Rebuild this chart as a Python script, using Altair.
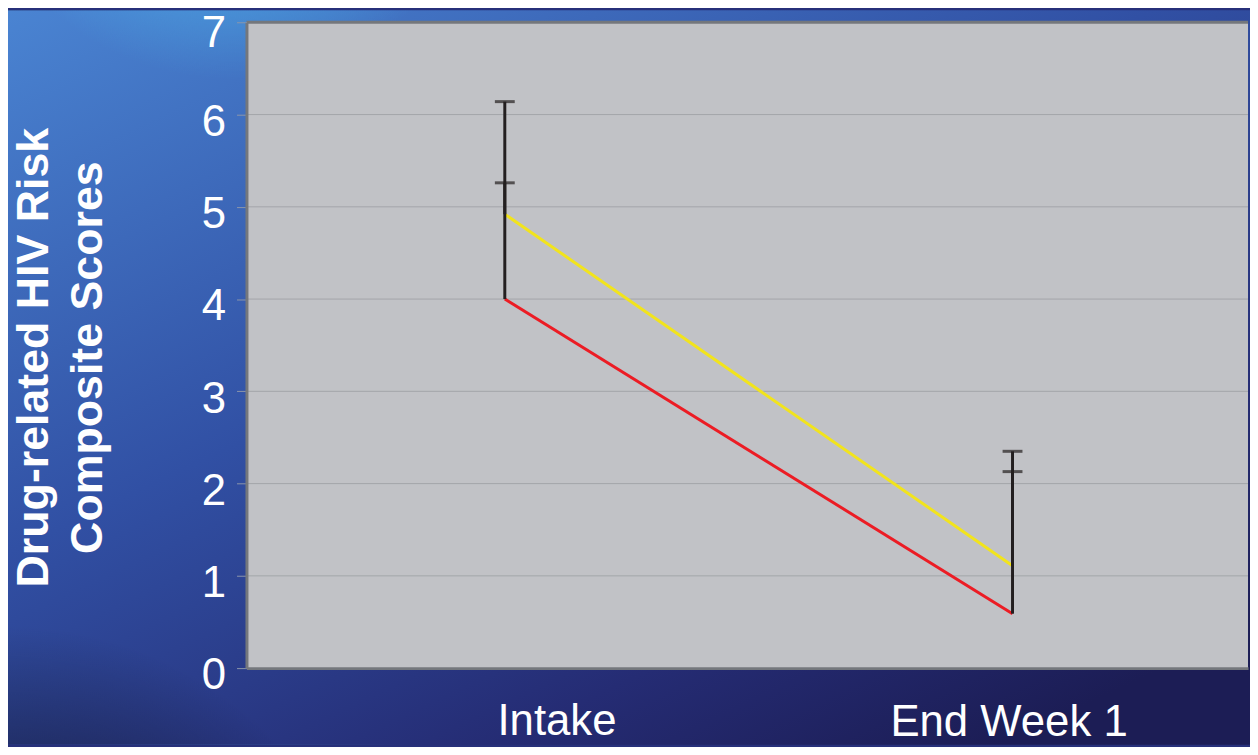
import json
import altair as alt
import pandas as pd

# ---- data ----
categories = ["Intake", "End Week 1"]
yellow_mean = [4.92, 1.11]
yellow_upper = [5.26, 2.13]
red_mean = [4.00, 0.59]
red_upper = [6.14, 2.35]
y_ticks = [0, 1, 2, 3, 4, 5, 6, 7]
grid_values = [1, 2, 3, 4, 5, 6]
top_border = [7]
series_names = ["Yellow", "Red"]
series_colors = ["#f2e41c", "#ec1c24"]
y_title = ["Drug-related HIV Risk", "Composite Scores"]

rows = []
for name, means, uppers in [("Yellow", yellow_mean, yellow_upper), ("Red", red_mean, red_upper)]:
    for i, (c, m, u) in enumerate(zip(categories, means, uppers)):
        rows.append({"series": name, "time": c, "idx": i, "mean": m, "upper": u})
df = pd.DataFrame(rows)
one = pd.DataFrame({"k": [0]})
grid_df = pd.DataFrame({"v": grid_values})
top_df = pd.DataFrame({"v": top_border})

W, H = 1008, 650
FONT = "Liberation Sans"
BORDER = "#74777c"

x_axis = alt.Axis(
    title=None, values=list(range(len(categories))), ticks=False, tickSize=0, labelAngle=0,
    labelExpr=json.dumps(categories) + "[datum.value]",
    labelFont=FONT, labelFontSize=44,
    labelColor="white", labelBaseline="alphabetic", labelAlign="center", labelLimit=0,
    labelOffset={"condition": {"test": "datum.value === 0", "value": 52}, "value": -4},
    labelPadding={"condition": {"test": "datum.value === 0", "value": 67}, "value": 68},
    domainColor=BORDER, domainWidth=3, grid=False, zindex=1, labelFlush=False, labelOverlap=False,
)
y_axis = alt.Axis(
    values=y_ticks, grid=False, labelFont=FONT, labelFontSize=44, labelColor="white",
    labelPadding=11,
    labelOffset={"condition": {"test": "datum.value === 7", "value": 11}, "value": 8},
    tickSize=10, tickColor="#8c96aa", tickWidth=1,
    domainColor=BORDER, domainWidth=3, zindex=1,
    titleFont=FONT, titleFontSize=45, titleFontWeight="bold", titleColor="white",
    titleLineHeight=54, titleAngle=270, titleAlign="center", titleBaseline="middle",
    titleX=-214, titleY=337,
)
x_scale = alt.Scale(domain=[-260 / 511, 748 / 511], nice=False, zero=False)
y_scale = alt.Scale(domain=[0, 7], nice=False, zero=True)


def xe():
    return alt.X("idx:Q", scale=x_scale, axis=x_axis)


def ye(field):
    return alt.Y(field, scale=y_scale, axis=y_axis, title=y_title)


bg = alt.Chart(one).mark_rect(
    color={"gradient": "linear", "x1": 0, "y1": 0, "x2": 0.8, "y2": 1,
           "stops": [{"offset": 0, "color": "#4a84d2"}, {"offset": 0.45, "color": "#3150a4"},
                     {"offset": 0.8, "color": "#252c74"}, {"offset": 1, "color": "#1c1d55"}]}
).encode(x=alt.value(-240), x2=alt.value(W + 2), y=alt.value(-12), y2=alt.value(H + 77))

glow = alt.Chart(one).mark_rect(
    color={"gradient": "radial", "x1": 0.18, "y1": 0.04, "r1": 0, "x2": 0.18, "y2": 0.04, "r2": 0.22,
           "stops": [{"offset": 0, "color": "rgba(80,205,248,0.95)"}, {"offset": 1, "color": "rgba(80,205,248,0)"}]}
).encode(x=alt.value(-240), x2=alt.value(W + 2), y=alt.value(-12), y2=alt.value(H + 77))

dark = alt.Chart(one).mark_rect(
    color={"gradient": "radial", "x1": 0.0, "y1": 1.0, "r1": 0, "x2": 0.0, "y2": 1.0, "r2": 0.3,
           "stops": [{"offset": 0, "color": "rgba(12,12,24,0.95)"}, {"offset": 1, "color": "rgba(12,12,24,0)"}]}
).encode(x=alt.value(-240), x2=alt.value(W + 2), y=alt.value(-12), y2=alt.value(H + 77))

panel = alt.Chart(one).mark_rect(color="#c1c2c6").encode(
    x=alt.value(0), x2=alt.value("width"), y=alt.value(0), y2=alt.value("height")
)

grid = alt.Chart(grid_df).mark_rule(color="#a3a5a9", strokeWidth=1).encode(y=ye("v:Q"))
top = alt.Chart(top_df).mark_rule(color=BORDER, strokeWidth=3).encode(y=ye("v:Q"))

lines = alt.Chart(df).mark_line(strokeWidth=3).encode(
    x=xe(), y=ye("mean:Q"),
    color=alt.Color("series:N", scale=alt.Scale(domain=series_names, range=series_colors), legend=None),
    detail="series:N",
)
errs = alt.Chart(df).mark_rule(color="#231f20", strokeWidth=3).encode(
    x=xe(), y=ye("mean:Q"), y2="upper:Q"
)
caps = alt.Chart(df).mark_tick(color="#231f20", thickness=3, size=20, orient="horizontal").encode(
    x=xe(), y=ye("upper:Q")
)

chart = alt.layer(bg, glow, dark, panel, grid, top, lines, errs, caps).properties(
    width=W, height=H,
    autosize=alt.AutoSizeParams(type="none"),
    padding={"left": 240, "top": 12, "right": 2, "bottom": 77},
).configure_view(strokeWidth=0).configure(background="#27307a")

chart.save("out.html", embed_options={"renderer": "svg", "actions": False})
